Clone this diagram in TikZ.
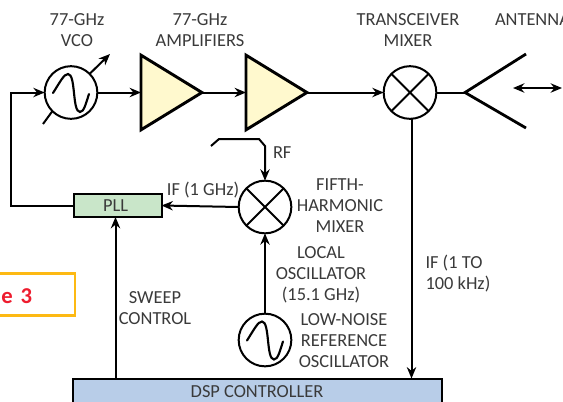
\documentclass[tikz,border=0pt]{standalone}
\usepackage{fontspec}
\setmainfont{Carlito}
\usetikzlibrary{arrows.meta,shapes.geometric}
\definecolor{txt}{HTML}{3A3A3A}
\definecolor{ampfill}{HTML}{FFF9CE}
\definecolor{pllfill}{HTML}{C9E6C9}
\definecolor{dspfill}{HTML}{B8CDE8}
\definecolor{figred}{HTML}{EE1C2E}
\definecolor{figgold}{HTML}{FDB913}
\tikzset{
  lbl/.style={text=txt,font=\fontsize{13.8}{15.75}\selectfont,align=center,inner sep=0pt,outer sep=0pt},
  wire/.style={line width=1.5pt,draw=black},
  arr/.style={wire,-{Stealth[length=8.5pt,width=7pt]}},
  sym/.style={circle,draw=black,line width=1.5pt,fill=white,minimum size=39.5pt,inner sep=0pt,outer sep=0pt},
  amp/.style={isosceles triangle,isosceles triangle apex angle=60,isosceles triangle stretches,draw=black,line width=2.2pt,fill=ampfill,
     minimum width=56pt,minimum height=45.7pt,inner sep=0pt,outer sep=0pt,anchor=lower side},
  blockbox/.style={draw=black,line width=1.5pt,inner sep=0pt,outer sep=0pt},
  sinewave/.style={line width=1.6pt,line cap=round}
}
\begin{document}
\begin{tikzpicture}[x=0.75pt,y=-0.75pt]
\useasboundingbox (0,0) rectangle (563,401);
% figure tag
\fill[white] (0,0) rectangle (563,401);
\draw[figgold,line width=1.6pt] (-5,273.5) -- (75,273.5) -- (75,315.5) -- (-5,315.5);
\node[inner sep=0pt,text=figred,font=\fontsize{17}{18}\bfseries\selectfont,anchor=east] (figtag) at (32.5,296.5) {e\hspace{6pt}3};
% blocks
\node[sym] (vco) at (71,92.5) {};
\node[amp] (amp1) at (141,92.5) {};
\node[amp] (amp2) at (246,92.5) {};
\node[sym] (txmix) at (410,92.5) {};
\node[sym] (fifth) at (265,207) {};
\node[sym] (lownoise) at (265,340) {};
\node[blockbox,fill=pllfill,minimum width=66pt,minimum height=17pt] (pll) at (117.5,205.5) {};
\node[blockbox,fill=dspfill,minimum width=276.5pt,minimum height=30pt,anchor=north] (dsp) at (257.5,378.5) {};
% mixer crosses
\draw[wire] (txmix.north west) -- (txmix.south east) (txmix.north east) -- (txmix.south west);
\draw[wire] (fifth.north west) -- (fifth.south east) (fifth.north east) -- (fifth.south west);
% sines
\draw[sinewave] (53,93) .. controls (60,82) and (64,74) .. (68,74) .. controls (76,74) and (72,112) .. (80,112) .. controls (84,112) and (86,103) .. (89,94);
\draw[sinewave] (247,340.5) .. controls (254,329.5) and (258,321.5) .. (262,321.5) .. controls (270,321.5) and (266,359.5) .. (274,359.5) .. controls (278,359.5) and (280,350.5) .. (283,341.5);
% tuning arrow
\coordinate (tunea) at (43,124);
\coordinate (tuneb) at (110,54);
\draw[wire] (tunea) -- (vco.south west);
\draw[arr] (vco.north east) -- (tuneb);
% main chain
\draw[arr] (vco.east) -- (amp1.lower side);
\draw[arr] (amp1.apex) -- (amp2.lower side);
\draw[arr] (amp2.apex) -- (txmix.west);
% antenna
\coordinate (antapex) at (465,92.5);
\coordinate (antup) at (526,54);
\coordinate (antdn) at (526,128);
\coordinate (beamL) at (513,88);
\coordinate (beamR) at (562,88);
\draw[wire] (txmix.east) -- (antapex);
\draw[line width=2.1pt,miter limit=10] (antup) -- (antapex) -- (antdn);
\draw[wire,{Stealth[length=8.5pt,width=7pt]}-{Stealth[length=8.5pt,width=7pt]}] (beamL) -- (beamR);
% IF out
\coordinate (ifout) at (411.5,119);
\coordinate (ifin) at (411.5,378.5);
\draw[arr] (ifout) -- (ifin);
% RF input
\coordinate (rfa) at (211,146);
\coordinate (rfb) at (219,139);
\coordinate (rfc) at (259,139);
\coordinate (rfd) at (265,146);
\draw[arr] (rfa) -- (rfb) -- (rfc) -- (rfd) -- (fifth.north);
% mixer to PLL, loop
\draw[arr] (fifth.west) -- (pll.east);
\coordinate (loopc) at (11,205.5);
\draw[arr] (pll.west) -- (loopc) -- (loopc |- vco.west) -- (vco.west);
\draw[arr] (lownoise.north) -- (fifth.south);
\coordinate (sweepa) at (115.5,378.5);
\coordinate (sweepb) at (115.5,217);
\draw[arr] (sweepa) -- (sweepb);
% labels
\node[lbl] (l1) at (77,30) {77-GHz\\VCO};
\node[lbl] (l2) at (200,30) {77-GHz\\AMPLIFIERS};
\node[lbl] (l3) at (408,30) {TRANSCEIVER\\MIXER};
\node[lbl,anchor=west] (l4) at (495,19.5) {ANTENNA};
\node[lbl,anchor=west] (l5) at (273,153) {RF};
\node[lbl] (l6) at (203,190.5) {IF (1 GHz)};
\node[lbl] (l7) at (340,206) {FIFTH-\\HARMONIC\\MIXER};
\node[lbl] (l8) at (321,275) {LOCAL\\OSCILLATOR\\(15.1 GHz)};
\node[lbl] (l9) at (344,341) {LOW-NOISE\\REFERENCE\\OSCILLATOR};
\node[lbl,align=left,anchor=west] (l10) at (425.5,273.5) {IF (1 TO\\100 kHz)};
\node[lbl] (l11) at (155,308) {SWEEP\\CONTROL};
\node[lbl] (l12) at (115.5,206) {PLL};
\node[lbl] (l13) at (257,391.5) {DSP CONTROLLER};
\end{tikzpicture}
\end{document}
